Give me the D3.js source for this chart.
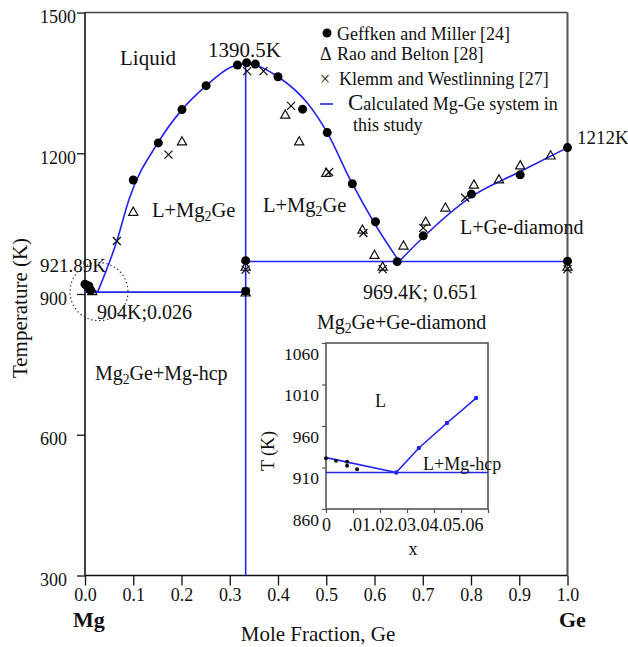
<!DOCTYPE html>
<html>
<head>
<meta charset="utf-8">
<script src="https://cdn.jsdelivr.net/npm/d3@7"></script>
<style>
  body { margin: 0; background: #fff; }
  svg { display: block; font-family: "Liberation Serif", "Times New Roman", serif; }
  text { font-family: "Liberation Serif", "Times New Roman", serif; fill: #111; }
</style>
</head>
<body>
<div id="chart"></div>
<script>
// axis ticks
const yTicks = [300, 600, 900, 1200, 1500];
const xTicks = [0, 0.1, 0.2, 0.3, 0.4, 0.5, 0.6, 0.7, 0.8, 0.9, 1.0];
const insetYTicks = [860, 910, 960, 1010, 1060];
const insetXTicks = [0, 0.01, 0.02, 0.03, 0.04, 0.05, 0.06];
const insetXLabels = ["0", ".01", ".02", ".03", ".04", ".05", ".06"];

// calculated phase boundaries (x Ge, T in K)
const liqMgSide = [[0, 921.89], [0.026, 904]];
const liqMg2Ge = [[0.026, 904], [0.066, 1013], [0.091, 1101], [0.151, 1222], [0.201, 1293],
  [0.249, 1342], [0.301, 1383], [0.333, 1390.5], [0.349, 1389], [0.400, 1363], [0.460, 1308],
  [0.502, 1244], [0.550, 1143], [0.598, 1054], [0.651, 969.4]];
const liqGeSide = [[0.651, 969.4], [0.702, 1022], [0.8, 1107], [0.9, 1160], [1.0, 1212]];
const eutecticMg = [[0, 904], [0.333, 904]];
const eutecticGe = [[0.333, 969.4], [1.0, 969.4]];
const mg2geLine = [[0.333, 300], [0.333, 1390.5]];

// experimental data
const geffken = [[0, 921], [0.004, 918], [0.008, 917], [0.008, 912], [0.012, 908],
  [0.100, 1143], [0.152, 1222], [0.201, 1293], [0.251, 1344], [0.316, 1388], [0.335, 1393],
  [0.353, 1390], [0.400, 1363], [0.451, 1294], [0.502, 1244], [0.554, 1135], [0.602, 1054],
  [0.647, 969], [0.333, 971], [0.333, 906], [0.701, 1024], [0.801, 1113], [0.902, 1154],
  [1.0, 1212], [1.0, 970]];
const rao = [[0.015, 906], [0.100, 1075], [0.201, 1225], [0.415, 1282], [0.444, 1225],
  [0.500, 1158], [0.575, 1037], [0.600, 983], [0.617, 958], [0.660, 1003], [0.706, 1054],
  [0.747, 1084], [0.806, 1133], [0.858, 1144], [0.902, 1174], [0.965, 1195],
  [0.333, 958], [1.0, 958], [0.333, 903]];
const klemm = [[0.066, 1013], [0.173, 1197], [0.336, 1375], [0.370, 1375], [0.427, 1301],
  [0.506, 1160], [0.577, 1030], [0.617, 953], [0.333, 952], [0.701, 1041], [0.788, 1105],
  [1.0, 953], [0.333, 905]];

// inset (Mg-rich corner)
const insetCalcMg = [[0, 921.89], [0.026, 904]];
const insetCalcMg2Ge = [[0.026, 904], [0.0344, 933.5], [0.0448, 963.6], [0.0556, 993.7]];
const insetEutectic = [[0, 904], [0.06, 904]];
const insetExp = [[0, 921], [0.0037, 918], [0.0078, 917], [0.0078, 912], [0.0115, 908]];

const W = 628, H = 647;
const blue = "#2424f2";
const svg = d3.select("#chart").append("svg").attr("width", W).attr("height", H);

const x = d3.scaleLinear().domain([0, 1]).range([85, 567.5]);
const y = d3.scaleLinear().domain([300, 1500]).range([575.5, 12.5]);

// text with {sub} parts
function richText(g, str, px, py, size, weight) {
  const t = g.append("text").attr("x", px).attr("y", py)
    .style("font-size", size + "px").style("font-weight", weight || "normal");
  let shifted = false;
  str.split(/(\{[^}]*\})/).forEach(p => {
    if (!p) return;
    if (p[0] === "{") {
      t.append("tspan").text(p.slice(1, -1)).style("font-size", (size * 0.68) + "px")
        .attr("dy", size * 0.2);
      shifted = true;
    } else {
      const s = t.append("tspan").text(p);
      if (shifted) { s.attr("dy", -size * 0.2); shifted = false; }
    }
  });
  return t;
}

// axes
const yAxis = svg.append("g").attr("transform", "translate(85,0)")
  .call(d3.axisLeft(y).tickValues(yTicks).tickSize(8).tickFormat(d3.format("d")))
  .attr("font-family", null).attr("font-size", null);
yAxis.select(".domain").remove();
yAxis.selectAll("line").attr("stroke", "#111").attr("stroke-width", 1.3);
yAxis.selectAll("text").attr("x", -45).attr("dy", 0).attr("y", 10)
  .attr("text-anchor", "start").style("font-size", "18px");

const xAxis = svg.append("g").attr("transform", "translate(0,575.5)")
  .call(d3.axisBottom(x).tickValues(xTicks).tickSize(10).tickFormat(d3.format(".1f")))
  .attr("font-family", null).attr("font-size", null);
xAxis.select(".domain").remove();
xAxis.selectAll("line").attr("stroke", "#111").attr("stroke-width", 1.3);
xAxis.selectAll("text").attr("dy", 0).attr("y", 25.5).style("font-size", "18px");

// frame
const frame = svg.append("g").attr("fill", "none");
frame.append("line").attr("x1", x(0)).attr("x2", x(1)).attr("y1", y(1500)).attr("y2", y(1500))
  .attr("stroke", "#444").attr("stroke-width", 1.5);
frame.append("line").attr("x1", x(1)).attr("x2", x(1)).attr("y1", y(1500)).attr("y2", y(300))
  .attr("stroke", "#555").attr("stroke-width", 2);
frame.append("line").attr("x1", x(0)).attr("x2", x(0)).attr("y1", y(1500)).attr("y2", y(300))
  .attr("stroke", "#111").attr("stroke-width", 1.6);
frame.append("line").attr("x1", x(0)).attr("x2", x(1)).attr("y1", y(300)).attr("y2", y(300))
  .attr("stroke", "#111").attr("stroke-width", 1.6);

// calculated lines
const line = d3.line().x(d => x(d[0])).y(d => y(d[1]));
const curve = d3.line().x(d => x(d[0])).y(d => y(d[1])).curve(d3.curveMonotoneX);
const calc = svg.append("g").attr("fill", "none").attr("stroke", blue).attr("stroke-width", 1.6);
calc.append("path").attr("d", line(liqMgSide));
calc.append("path").attr("d", curve(liqMg2Ge));
calc.append("path").attr("d", curve(liqGeSide));
calc.append("path").attr("d", line(eutecticMg));
calc.append("path").attr("d", line(eutecticGe));
calc.append("path").attr("d", line(mg2geLine));

// markers
const triPath = "M0,-4.8L4.6,3.4L-4.6,3.4Z";
const crossPath = "M-4,-4L4,4M-4,4L4,-4";
const marks = svg.append("g");
marks.selectAll(".tri").data(rao).join("path").attr("class", "tri")
  .attr("transform", d => `translate(${x(d[0])},${y(d[1])})`)
  .attr("d", triPath).attr("fill", "none").attr("stroke", "#111").attr("stroke-width", 1.2);
marks.selectAll(".crs").data(klemm).join("path").attr("class", "crs")
  .attr("transform", d => `translate(${x(d[0])},${y(d[1])})`)
  .attr("d", crossPath).attr("fill", "none").attr("stroke", "#111").attr("stroke-width", 1.3);
marks.selectAll(".dot").data(geffken).join("circle").attr("class", "dot")
  .attr("cx", d => x(d[0])).attr("cy", d => y(d[1])).attr("r", 4.5).attr("fill", "#000");

// dotted circle marking the Mg corner
svg.append("circle").attr("cx", x(0.029)).attr("cy", y(905)).attr("r", 29)
  .attr("fill", "none").attr("stroke", "#333").attr("stroke-width", 1.2)
  .attr("stroke-dasharray", "1.4,2.6");

// legend
const lg = svg.append("g");
lg.append("circle").attr("cx", 327).attr("cy", 33).attr("r", 4.5).attr("fill", "#000");
richText(lg, "Geffken and Miller [24]", 337, 39.5, 18);
richText(lg, "Δ", 320, 60, 18);
richText(lg, "Rao and Belton [28]", 337, 60, 18);
richText(lg, "×", 320, 85, 18);
richText(lg, "Klemm and Westlinning [27]", 339, 85, 18);
lg.append("line").attr("x1", 320).attr("x2", 333).attr("y1", 104).attr("y2", 104)
  .attr("stroke", blue).attr("stroke-width", 1.6);
const calcText = lg.append("text").attr("x", 348).attr("y", 110).style("font-size", "18px");
calcText.append("tspan").text("C").style("font-size", "23px");
calcText.append("tspan").text("alculated Mg-Ge system in");
richText(lg, "this study", 353, 131, 18);

// annotations
const ann = svg.append("g");
richText(ann, "Liquid", 120, 65, 21);
richText(ann, "1390.5K", 208, 57, 21);
richText(ann, "L+Mg{2}Ge", 152, 217, 20.5);
richText(ann, "L+Mg{2}Ge", 263, 212, 20.5);
richText(ann, "921.89K", 40, 272, 19);
richText(ann, "904K;0.026", 97, 319, 20);
richText(ann, "Mg{2}Ge+Mg-hcp", 95, 380, 20);
richText(ann, "969.4K; 0.651", 363, 299, 20);
richText(ann, "Mg{2}Ge+Ge-diamond", 317, 329, 20);
richText(ann, "L+Ge-diamond", 460, 234, 20);
richText(ann, "1212K", 577, 144, 19);

// axis titles
richText(svg, "Mg", 73, 627, 22, "bold");
richText(svg, "Ge", 559, 627, 22, "bold");
svg.append("text").attr("x", 318).attr("y", 641).attr("text-anchor", "middle")
  .style("font-size", "21px").text("Mole Fraction, Ge");
svg.append("text").attr("transform", "translate(27,308) rotate(-90)").attr("text-anchor", "middle")
  .style("font-size", "21px").text("Temperature (K)");

// inset
const xi = d3.scaleLinear().domain([0, 0.06]).range([326, 488]);
const yi = d3.scaleLinear().domain([860, 1060]).range([509, 343]);
const inset = svg.append("g");
inset.append("rect").attr("x", xi(0)).attr("y", yi(1060))
  .attr("width", xi(0.06) - xi(0)).attr("height", yi(860) - yi(1060))
  .attr("fill", "#fff").attr("stroke", "#555").attr("stroke-width", 1.6);

const iyAxis = inset.append("g").attr("transform", `translate(${xi(0)},0)`)
  .call(d3.axisLeft(yi).tickValues(insetYTicks).tickSize(4).tickFormat(d3.format("d")))
  .attr("font-family", null).attr("font-size", null);
iyAxis.select(".domain").remove();
iyAxis.selectAll("line").attr("stroke", "#555").attr("stroke-width", 1.2);
iyAxis.selectAll("text").attr("x", -7).attr("dy", 0).attr("y", 16).style("font-size", "17.5px");

const ixAxis = inset.append("g").attr("transform", `translate(0,${yi(860)})`)
  .call(d3.axisBottom(xi).tickValues(insetXTicks).tickSize(4).tickFormat((d, i) => insetXLabels[i]))
  .attr("font-family", null).attr("font-size", null);
ixAxis.select(".domain").remove();
ixAxis.selectAll("line").attr("stroke", "#555").attr("stroke-width", 1.2);
ixAxis.selectAll("text").attr("dy", 0).attr("y", 22).style("font-size", "18px");
// decimal labels run together after the first one, as in the original
let cursor = xi(0.01) - 5;
ixAxis.selectAll("text").each(function (d, i) {
  if (i === 0) return;
  const t = d3.select(this);
  const w = this.getComputedTextLength();
  t.attr("text-anchor", "start").attr("x", cursor - xi(d));
  cursor += w;
});

const iline = d3.line().x(d => xi(d[0])).y(d => yi(d[1]));
const icalc = inset.append("g").attr("fill", "none").attr("stroke", blue).attr("stroke-width", 1.6);
icalc.append("path").attr("d", iline(insetEutectic));
icalc.append("path").attr("d", iline(insetCalcMg));
icalc.append("path").attr("d", iline(insetCalcMg2Ge));
inset.selectAll(".idot").data(insetCalcMg2Ge).join("circle").attr("class", "idot")
  .attr("cx", d => xi(d[0])).attr("cy", d => yi(d[1])).attr("r", 2.2).attr("fill", blue);
inset.selectAll(".iexp").data(insetExp).join("circle").attr("class", "iexp")
  .attr("cx", d => xi(d[0])).attr("cy", d => yi(d[1])).attr("r", 2).attr("fill", "#111");

richText(inset, "L", 375, 407, 18);
richText(inset, "L+Mg-hcp", 423, 470, 18);
svg.append("text").attr("x", 413).attr("y", 555).attr("text-anchor", "middle")
  .style("font-size", "18px").text("x");
svg.append("text").attr("transform", "translate(274,451) rotate(-90)").attr("text-anchor", "middle")
  .style("font-size", "18px").text("T (K)");
</script>
</body>
</html>
